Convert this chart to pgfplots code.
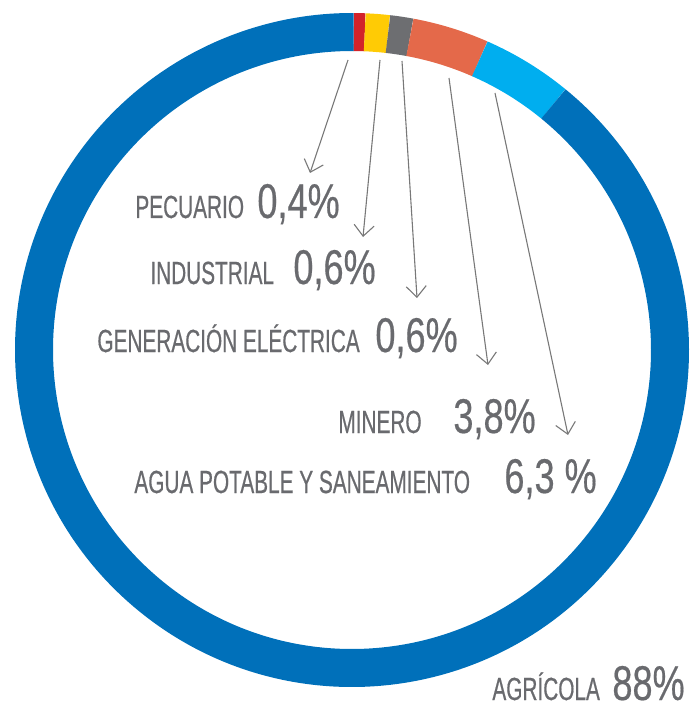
\documentclass[border=0pt]{standalone}
\usepackage{pgfplots}
\usepackage{pgfplotstable}
\pgfplotsset{compat=1.18}
\usetikzlibrary{arrows.meta}
\usepackage{fontspec}
\setmainfont{Liberation Sans}
\newfontfamily\lab[FakeStretch=0.65,FakeBold=0.5]{Liberation Sans}
\newfontfamily\num[FakeStretch=0.74,FakeBold=0.4]{Liberation Sans}
\definecolor{cRed}{RGB}{210,35,42}
\definecolor{cYellow}{RGB}{255,203,5}
\definecolor{cGray}{RGB}{109,110,113}
\definecolor{cOrange}{RGB}{228,105,74}
\definecolor{cLight}{RGB}{0,174,239}
\definecolor{cBlue}{RGB}{0,112,186}
\definecolor{txt}{RGB}{105,106,110}
\definecolor{arr}{RGB}{120,120,120}

% sector, share (%), start and end angle as drawn (degrees clockwise from top)
\pgfplotstableread{
sector value a0 a1 col
Pecuario 0.4 0.3 2.3 cRed
Industrial 0.6 2.3 6.5 cYellow
Generacion 0.6 6.5 10.5 cGray
Minero 3.8 10.5 23.7 cOrange
Agua 6.3 23.7 39.3 cLight
Agricola 88 39.3 360.3 cBlue
}\ringdata

\newcommand{\labfont}{\lab\fontsize{16}{16}\selectfont}
\newcommand{\numfont}{\num\fontsize{24.4}{24.4}\selectfont}

\begin{document}
\begin{tikzpicture}
\useasboundingbox (0,0) rectangle (346pt,355.5pt);
\begin{axis}[
  at={(0,0)}, anchor=south west,
  hide axis, scale only axis, clip=false,
  width=346pt, height=355.5pt,
  xmin=0, xmax=692, ymin=0, ymax=711, y dir=reverse,
]
\pgfplotsinvokeforeach{0,...,5}{
  \pgfplotstablegetelem{#1}{a0}\of\ringdata \let\ra\pgfplotsretval
  \pgfplotstablegetelem{#1}{a1}\of\ringdata \let\rb\pgfplotsretval
  \pgfplotstablegetelem{#1}{col}\of\ringdata \let\rc\pgfplotsretval
  \pgfmathsetmacro\sx{352+318*sin(\ra)}
  \pgfmathsetmacro\sy{350-318*cos(\ra)}
  \pgfmathsetmacro\sa{90-\ra}
  \pgfmathsetmacro\ea{90-\rb}
  \edef\tmp{\noexpand\draw[line width=19pt, color=\rc] (axis cs:\sx,\sy) arc[start angle=\sa, end angle=\ea, radius=159pt];}
  \tmp
}
% arrows
\begin{scope}[draw=arr, line width=0.55pt, -{Straight Barb[length=5.5pt, width=10pt]}]
\draw (axis cs:348,60) -- (axis cs:310,173);
\draw (axis cs:380,60) -- (axis cs:363,237);
\draw (axis cs:402,61) -- (axis cs:417,298);
\draw (axis cs:449,78) -- (axis cs:488,365);
\draw (axis cs:495,93) -- (axis cs:568,435);
\end{scope}
% labels
\begin{scope}[every node/.style={anchor=base west, inner sep=0pt, text=txt}]
\node[font=\labfont] at (axis cs:135,218) {PECUARIO};
\node[font=\numfont] at (axis cs:257,218) {0,4\%};
\node[font=\labfont] at (axis cs:150,284) {INDUSTRIAL};
\node[font=\numfont] at (axis cs:293,284) {0,6\%};
\node[font=\labfont] at (axis cs:97,352) {GENERACIÓN ELÉCTRICA};
\node[font=\numfont] at (axis cs:375,352) {0,6\%};
\node[font=\labfont] at (axis cs:338,433) {MINERO};
\node[font=\numfont] at (axis cs:453,433) {3,8\%};
\node[font=\labfont] at (axis cs:134,493) {AGUA POTABLE Y SANEAMIENTO};
\node[font=\numfont] at (axis cs:504,493) {6,3\hspace{5pt}\%};
\node[font=\labfont] at (axis cs:492,700) {AGRÍCOLA};
\node[font=\numfont] at (axis cs:612,700) {88\%};
\end{scope}
\end{axis}
\end{tikzpicture}
\end{document}
